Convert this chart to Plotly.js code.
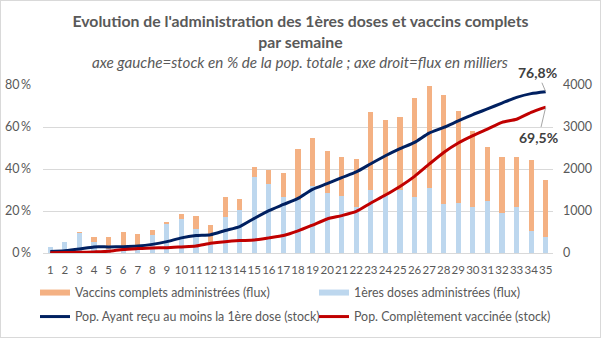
<!DOCTYPE html>
<html>
<head>
<meta charset="utf-8">
<script src="https://cdn.plot.ly/plotly-3.0.1.min.js"></script>
<style>
html,body{margin:0;padding:0;background:#fff;}
#wrap{position:relative;width:601px;height:338px;}
#chart{position:absolute;left:0;top:0;width:601px;height:338px;}
#frame{position:absolute;left:0;top:0;width:599px;height:336px;border:1px solid #d9d9d9;pointer-events:none;}
</style>
</head>
<body>
<div id="wrap"><div id="chart"></div><div id="frame"></div></div>
<script>
// Weeks
const weeks = [1,2,3,4,5,6,7,8,9,10,11,12,13,14,15,16,17,18,19,20,21,22,23,24,25,26,27,28,29,30,31,32,33,34,35];
// 1ères doses administrées (flux, milliers)
const firstDoses = [140,262,476,270,90,80,100,420,690,802,580,260,850,1032,1818,1651,1342,1270,1603,1437,1365,1095,1508,1370,1508,1342,1540,1175,1198,1103,1246,960,1103,532,389];
// Vaccins complets administrés (flux, milliers)
const completeDoses = [0,0,31,110,290,420,350,130,50,135,309,410,492,262,238,334,571,1215,1143,1000,929,1151,1857,1805,1738,2356,2444,2595,2191,1810,1286,1334,1191,1690,1357];
// Pop. ayant reçu au moins la 1ère dose (stock, % pop.)
const atLeastOne = [0.7,1.1,1.9,2.9,2.9,3.0,3.3,4.1,5.4,7.2,8.3,8.7,10.7,12.6,16.5,20.2,23.1,26.0,30.3,33.0,35.9,38.6,42.5,46.3,49.7,52.7,57.1,59.8,62.9,65.9,68.6,71.4,74.1,75.9,76.8];
// Pop. complètement vaccinée (stock, % pop.)
const fullyVacc = [0.1,0.2,0.3,0.5,0.8,1.7,2.1,2.4,2.5,2.9,3.3,4.6,5.4,5.9,6.2,7.2,8.3,10.5,13.3,16.2,17.8,19.8,23.8,27.6,31.7,36.5,42.3,47.9,52.4,55.9,59.0,62.2,63.7,67.0,69.5];
// Tick labels
const pctTickVals = [0,20,40,60,80];
const pctTickText = ['0\u2009%','20\u2009%','40\u2009%','60\u2009%','80\u2009%'];
const fluxTickVals = [0,1000,2000,3000,4000];
const fluxTickText = ['0','1000','2000','3000','4000'];
// Texts
const titleText = "Evolution de l'administration des 1ères doses et vaccins complets<br>par semaine";
const subtitleText = "axe gauche=stock en % de la pop. totale ; axe droit=flux en milliers";
const names = ['Vaccins complets administrées (flux)','1ères doses administrées (flux)','Pop. Ayant reçu au moins la 1ère dose (stock)','Pop. Complètement vaccinée (stock)'];

const C_ORANGE = '#F4B183', C_BLUE = '#BDD7EE', C_NAVY = '#002060', C_RED = '#C00000';
const TXT = '#595959';
const FONT = 'Lato, "Open Sans", sans-serif';

const fmt = v => v.toFixed(1).replace('.', ',') + '%';

const traces = [
  {type:'bar', x:weeks, y:firstDoses, yaxis:'y', marker:{color:C_BLUE}, width:0.36, showlegend:false, hoverinfo:'skip'},
  {type:'bar', x:weeks, y:completeDoses, yaxis:'y', marker:{color:C_ORANGE}, width:0.36, showlegend:false, hoverinfo:'skip'},
  {type:'scatter', mode:'lines', x:weeks, y:atLeastOne, yaxis:'y2', line:{color:C_NAVY, width:3, shape:'spline', smoothing:0.6}, showlegend:false},
  {type:'scatter', mode:'lines', x:weeks, y:fullyVacc, yaxis:'y2', line:{color:C_RED, width:3, shape:'spline', smoothing:0.6}, showlegend:false},
  // legend entries
  {type:'scatter', mode:'lines', x:[null], y:[null], name:names[0], legend:'legend', line:{color:C_ORANGE, width:6}},
  {type:'scatter', mode:'lines', x:[null], y:[null], name:names[1], legend:'legend2', line:{color:C_BLUE, width:6}},
  {type:'scatter', mode:'lines', x:[null], y:[null], name:names[2], legend:'legend3', line:{color:C_NAVY, width:3}},
  {type:'scatter', mode:'lines', x:[null], y:[null], name:names[3], legend:'legend4', line:{color:C_RED, width:3}}
];

function leg(px, py) {
  return {orientation:'v', xref:'container', yref:'container', x:px/601, xanchor:'left', y:1-py/338, yanchor:'middle',
          font:{size:12.4, color:TXT}, itemwidth:30, bgcolor:'rgba(0,0,0,0)', borderwidth:0};
}

const L = 43, R = 48, T = 85, B = 85, W = 601, H = 338;
const PW = W - L - R, PH = H - T - B;
const n = weeks.length - 1;
const layout = {
  width:W, height:H,
  margin:{l:L, r:R, t:T, b:B, pad:0, autoexpand:false},
  paper_bgcolor:'#fff', plot_bgcolor:'#fff',
  font:{family:FONT, color:TXT, size:12},
  barmode:'stack',
  title:{text:'<b>'+titleText+'</b>', x:0.5, xanchor:'center', y:1-27/H, yref:'container', yanchor:'middle',
         font:{family:FONT, size:15.8, color:TXT}},
  xaxis:{range:[0.5,35.5], tickvals:weeks, ticktext:weeks.map(String), tickangle:0, showgrid:false, zeroline:false, showline:false,
         ticks:'', ticklabelstandoff:8, tickfont:{size:11.5, color:TXT}, fixedrange:true},
  yaxis:{side:'right', range:[0,4000], tickvals:fluxTickVals, ticktext:fluxTickText, showgrid:true, gridcolor:'#d9d9d9', gridwidth:1,
         zeroline:true, zerolinecolor:'#d9d9d9', zerolinewidth:1, showline:false, ticks:'', ticklabelstandoff:9, tickfont:{size:12.5, color:TXT}},
  yaxis2:{side:'left', overlaying:'y', range:[0,80], tickvals:pctTickVals, ticktext:pctTickText, showgrid:false, zeroline:false,
          showline:false, ticks:'', ticklabelstandoff:11, tickfont:{size:12.5, color:TXT}},
  legend: leg(35, 293),
  legend2: leg(314, 293),
  legend3: leg(35, 317),
  legend4: leg(314, 317),
  annotations:[
    {xref:'paper', yref:'paper', x:(300-L)/PW, y:1+(T-62)/PH, xanchor:'center', yanchor:'middle', showarrow:false,
     text:'<i>'+subtitleText+'</i>', font:{family:FONT, size:15.2, color:TXT}},
    {xref:'x', yref:'y2', x:weeks[n], y:atLeastOne[n], text:'<b>'+fmt(atLeastOne[n])+'</b>', showarrow:true, arrowhead:0,
     arrowcolor:'#a6a6a6', arrowwidth:1, ax:-8, ay:-19, font:{family:FONT, size:14, color:'#404040'}},
    {xref:'x', yref:'y2', x:weeks[n], y:fullyVacc[n], text:'<b>'+fmt(fullyVacc[n])+'</b>', showarrow:true, arrowhead:0,
     arrowcolor:'#a6a6a6', arrowwidth:1, ax:-7, ay:30, font:{family:FONT, size:14, color:'#404040'}}
  ]
};

Plotly.newPlot('chart', traces, layout, {displayModeBar:false, staticPlot:true});
</script>
</body>
</html>
